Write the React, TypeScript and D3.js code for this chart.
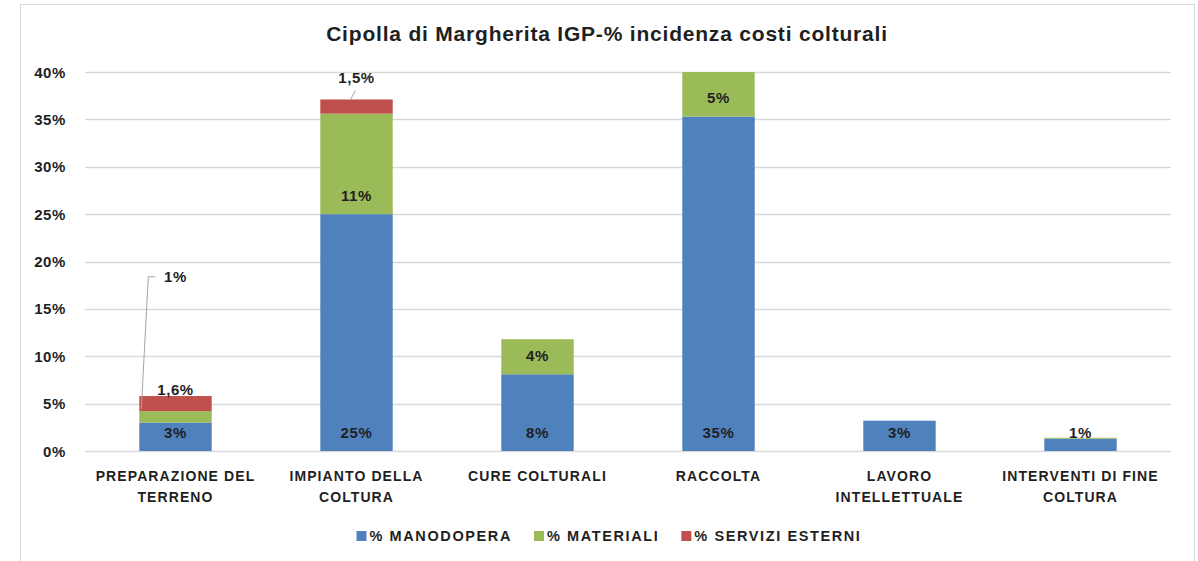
import React, { useEffect, useRef } from 'react';
import * as d3 from 'd3';

const title = 'Cipolla di Margherita IGP-% incidenza costi colturali';
const categories = [
  'PREPARAZIONE DEL TERRENO',
  'IMPIANTO DELLA COLTURA',
  'CURE COLTURALI',
  'RACCOLTA',
  'LAVORO INTELLETTUALE',
  'INTERVENTI DI FINE COLTURA',
];
const manodopera = [3.0, 25.0, 8.1, 35.3, 3.2, 1.3];
const materiali = [1.2, 10.6, 3.7, 4.7, 0, 0.1];
const serviziEsterni = [1.6, 1.5, 0, 0, 0, 0];
const seriesKeys = ['manodopera', 'materiali', 'servizi'];
const seriesNames = ['% MANODOPERA', '% MATERIALI', '% SERVIZI ESTERNI'];
const colors = ['#4F81BD', '#9BBB59', '#C0504D'];
const yTicks = [0, 5, 10, 15, 20, 25, 30, 35, 40];

const FONT = '"Liberation Sans", Arial, sans-serif';
const TEXT = '#1f1f1f';
const GRID = '#d9d9d9';

export default function App() {
  const svgRef = useRef<SVGSVGElement>(null);

  useEffect(() => {
    const svg = d3.select(svgRef.current);
    svg.selectAll('*').remove();

    const left = 85, right = 1171, top = 72, bottom = 451;

    const rows = categories.map((c, i) => ({
      cat: c,
      manodopera: manodopera[i],
      materiali: materiali[i],
      servizi: serviziEsterni[i],
    }));
    const stacked = d3.stack<any>().keys(seriesKeys)(rows);

    const x = d3.scaleBand().domain(categories).range([left, right])
      .paddingInner(0.6).paddingOuter(0.3);
    const y = d3.scaleLinear().domain([0, 40]).range([bottom, top]);

    // chart frame
    svg.append('rect')
      .attr('x', 20.5).attr('y', 4.5)
      .attr('width', 1174).attr('height', 600)
      .attr('fill', 'white').attr('stroke', GRID);

    svg.append('text')
      .attr('x', 607).attr('y', 41)
      .attr('text-anchor', 'middle')
      .attr('font-family', FONT).attr('font-weight', 'bold')
      .attr('font-size', 21).attr('letter-spacing', 0.8).attr('fill', TEXT)
      .text(title);

    // gridlines
    svg.append('g').selectAll('line').data(yTicks).join('line')
      .attr('x1', left).attr('x2', right)
      .attr('y1', d => Math.round(y(d)) + 0.5).attr('y2', d => Math.round(y(d)) + 0.5)
      .attr('stroke', GRID).attr('stroke-width', 1.3);

    svg.append('g').selectAll('text').data(yTicks).join('text')
      .attr('x', 66).attr('y', d => y(d) + 5.5)
      .attr('text-anchor', 'end')
      .attr('font-family', FONT).attr('font-weight', 'bold')
      .attr('font-size', 15).attr('letter-spacing', 0.6).attr('fill', TEXT)
      .text(d => d + '%');

    svg.append('clipPath').attr('id', 'plot-clip')
      .append('rect').attr('x', left).attr('y', top)
      .attr('width', right - left).attr('height', bottom - top);

    // bars
    const bars = svg.append('g').attr('clip-path', 'url(#plot-clip)');
    stacked.forEach((s, si) => {
      bars.append('g').attr('fill', colors[si])
        .selectAll('rect').data(s.filter(d => d[1] - d[0] > 0)).join('rect')
        .attr('x', d => x(d.data.cat)!)
        .attr('width', x.bandwidth())
        .attr('y', d => y(d[1]))
        .attr('height', d => y(d[0]) - y(d[1]));
    });

    const labels = svg.append('g')
      .attr('font-family', FONT).attr('font-weight', 'bold')
      .attr('font-size', 15).attr('letter-spacing', 0.6).attr('fill', TEXT)
      .attr('text-anchor', 'middle');
    const leader = svg.append('g').attr('fill', 'none')
      .attr('stroke', '#a6a6a6').attr('stroke-width', 1);

    // manodopera + materiali: inside base
    [0, 1].forEach(si => {
      stacked[si].forEach((d, i) => {
        const v = d[1] - d[0];
        if (v < 0.5) return;
        const cx = x(d.data.cat)! + x.bandwidth() / 2;
        const txt = d3.format('.0f')(v) + '%';
        if (si === 1 && i === 0) {
          // small segment label pulled out with a leader line
          const bx = x(d.data.cat)!;
          const ly = y(18.4);
          leader.append('path')
            .attr('d', `M${bx + 2},${y((d[0] + d[1]) / 2) - 8}L${bx + 9},${ly}L${bx + 16},${ly}`);
          labels.append('text').attr('x', cx).attr('y', ly + 5.5).text(txt);
          return;
        }
        labels.append('text').attr('x', cx).attr('y', y(d[0]) - 19 + 5.5).text(txt);
      });
    });

    // servizi esterni: above the stack
    const serviziLift = [7, 22];
    stacked[2].forEach((d, i) => {
      const v = d[1] - d[0];
      if (v <= 0) return;
      const cx = x(d.data.cat)! + x.bandwidth() / 2;
      const yt = y(d[1]);
      const lift = serviziLift[i] ?? 7;
      if (lift > 10) {
        leader.append('line')
          .attr('x1', cx - 6).attr('y1', yt).attr('x2', cx - 1).attr('y2', yt - 9);
      }
      labels.append('text').attr('x', cx).attr('y', yt - lift + 5.5)
        .text(d3.format('.1f')(v).replace('.', ',') + '%');
    });

    // category labels (wrapped)
    const catG = svg.append('g')
      .attr('font-family', FONT).attr('font-weight', 'bold')
      .attr('font-size', 14).attr('letter-spacing', 1.1).attr('fill', TEXT)
      .attr('text-anchor', 'middle');
    categories.forEach(c => {
      const cx = x(c)! + x.bandwidth() / 2;
      const t = catG.append('text').attr('x', cx).attr('y', 481);
      const words = c.split(' ');
      let line: string[] = [];
      let lineNo = 0;
      let ts = t.append('tspan').attr('x', cx).attr('y', 481);
      words.forEach(w => {
        line.push(w);
        ts.text(line.join(' '));
        if ((ts.node() as SVGTSpanElement).getComputedTextLength() > 172 && line.length > 1) {
          line.pop();
          ts.text(line.join(' '));
          line = [w];
          lineNo++;
          ts = t.append('tspan').attr('x', cx).attr('y', 481 + lineNo * 21).text(w);
        }
      });
    });

    // legend
    const leg = svg.append('g')
      .attr('font-family', FONT).attr('font-weight', 'bold')
      .attr('font-size', 14.5).attr('letter-spacing', 1.6).attr('fill', TEXT);
    const items = seriesNames.map((n, i) => {
      const g = leg.append('g');
      g.append('rect').attr('width', 10).attr('height', 10).attr('y', 531).attr('fill', colors[i]);
      const tx = g.append('text').attr('x', 13).attr('y', 541).text(n);
      const w = 13 + (tx.node() as SVGTextElement).getComputedTextLength();
      return { g, w };
    });
    const gap = 22;
    const total = d3.sum(items, d => d.w) + gap * (items.length - 1);
    let cur = 609 - total / 2;
    items.forEach(it => {
      it.g.attr('transform', `translate(${cur},0)`);
      cur += it.w + gap;
    });
  }, []);

  return (
    <div style={{ position: 'absolute', left: 0, top: 0 }}>
      <svg ref={svgRef} width={1198} height={561} style={{ display: 'block', background: 'white' }} />
    </div>
  );
}
